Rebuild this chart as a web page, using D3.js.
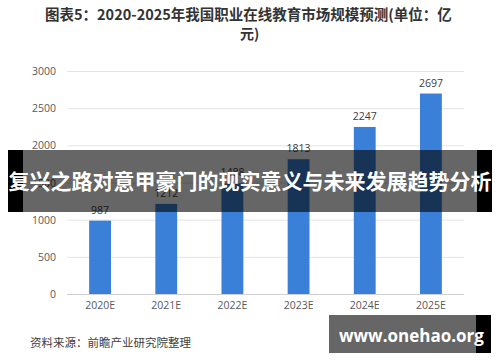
<!DOCTYPE html>
<html>
<head>
<meta charset="utf-8">
<script src="https://cdn.jsdelivr.net/npm/d3@7"></script>
<style>
  body { margin: 0; background: #fff; }
  svg { display: block; }
</style>
</head>
<body>
<div id="chart"></div>
<script>
// chart data
const years = ["2020E", "2021E", "2022E", "2023E", "2024E", "2025E"];
const marketSize = [987, 1212, 1488, 1813, 2247, 2697];
const yTicks = [0, 500, 1000, 1500, 2000, 2500, 3000];

const titleLine1 = "图表5：2020-2025年我国职业在线教育市场规模预测(单位：亿";
const titleLine2 = "元)";
const sourceText = "资料来源：前瞻产业研究院整理";
const bannerText = "复兴之路对意甲豪门的现实意义与未来发展趋势分析";
const siteText = "www.onehao.org";

const width = 500;
const height = 362;
const cjk = "'Noto Sans CJK SC', 'Noto Sans', sans-serif";

const svg = d3.select("#chart")
  .append("svg")
  .attr("width", width)
  .attr("height", height);

svg.append("rect")
  .attr("width", width)
  .attr("height", height)
  .attr("fill", "#fff");

// title (two lines, wrapped like the source image)
svg.append("text")
  .attr("x", 45)
  .attr("y", 20)
  .style("font-family", cjk)
  .style("font-size", "14.5px")
  .style("font-weight", "bold")
  .style("fill", "#333")
  .text(titleLine1);

svg.append("text")
  .attr("x", 240)
  .attr("y", 39)
  .style("font-family", cjk)
  .style("font-size", "14px")
  .style("font-weight", "bold")
  .style("fill", "#333")
  .text(titleLine2);

// scales
const x = d3.scaleBand()
  .domain(years)
  .range([67, 464])
  .paddingInner(0.67)
  .paddingOuter(0.335);

const y = d3.scaleLinear()
  .domain([0, 3000])
  .range([294, 71]);

// grid lines
svg.append("g")
  .selectAll("line")
  .data(yTicks)
  .join("line")
  .attr("x1", 67)
  .attr("x2", 464)
  .attr("y1", d => y(d) + 0.5)
  .attr("y2", d => y(d) + 0.5)
  .attr("stroke", d => d === 0 ? "#d0d0d0" : "#e4e4e4")
  .attr("stroke-width", 1);

// y tick labels
svg.append("g")
  .selectAll("text")
  .data(yTicks)
  .join("text")
  .attr("x", 56)
  .attr("y", d => y(d) + 4)
  .attr("text-anchor", "end")
  .style("font-family", "'Open Sans', sans-serif")
  .style("font-size", "10.5px")
  .style("fill", "#595959")
  .text(d => d);

// bars
svg.append("g")
  .selectAll("rect")
  .data(marketSize)
  .join("rect")
  .attr("x", (d, i) => x(years[i]))
  .attr("y", d => y(d))
  .attr("width", x.bandwidth())
  .attr("height", d => y(0) - y(d))
  .attr("fill", "#3a7fd8");

// value labels
svg.append("g")
  .selectAll("text")
  .data(marketSize)
  .join("text")
  .attr("x", (d, i) => x(years[i]) + x.bandwidth() / 2)
  .attr("y", d => y(d) - 7)
  .attr("text-anchor", "middle")
  .style("font-family", "'Open Sans', sans-serif")
  .style("font-size", "10.5px")
  .style("fill", "#404040")
  .text(d => d);

// x labels
svg.append("g")
  .selectAll("text")
  .data(years)
  .join("text")
  .attr("x", d => x(d) + x.bandwidth() / 2)
  .attr("y", 309)
  .attr("text-anchor", "middle")
  .style("font-family", "'Open Sans', sans-serif")
  .style("font-size", "10.5px")
  .style("fill", "#595959")
  .text(d => d);

// source note
svg.append("text")
  .attr("x", 30)
  .attr("y", 347)
  .style("font-family", cjk)
  .style("font-size", "11.5px")
  .style("fill", "#404040")
  .text(sourceText);

// overlay banner across the middle: black edges, translucent dark middle
svg.append("rect")
  .attr("x", 8).attr("y", 150)
  .attr("width", 15).attr("height", 62)
  .attr("fill", "#000");
svg.append("rect")
  .attr("x", 477).attr("y", 150)
  .attr("width", 15).attr("height", 62)
  .attr("fill", "#000");
svg.append("rect")
  .attr("x", 23).attr("y", 150)
  .attr("width", 454).attr("height", 62)
  .attr("fill", "#000")
  .attr("fill-opacity", 0.6);

svg.append("text")
  .attr("x", 250)
  .attr("y", 189)
  .attr("text-anchor", "middle")
  .style("font-family", cjk)
  .style("font-size", "21px")
  .style("font-weight", "bold")
  .style("fill", "#fff")
  .text(bannerText);

// site banner in the bottom-right corner
svg.append("rect")
  .attr("x", 329).attr("y", 315)
  .attr("width", 147).attr("height", 38)
  .attr("fill", "#000")
  .attr("fill-opacity", 0.6);
svg.append("rect")
  .attr("x", 476).attr("y", 315)
  .attr("width", 15).attr("height", 38)
  .attr("fill", "#000");

svg.append("text")
  .attr("x", 339)
  .attr("y", 342)
  .style("font-family", "'Open Sans', sans-serif")
  .style("font-size", "17px")
  .style("font-weight", "bold")
  .style("fill", "#fff")
  .text(siteText);
</script>
</body>
</html>
